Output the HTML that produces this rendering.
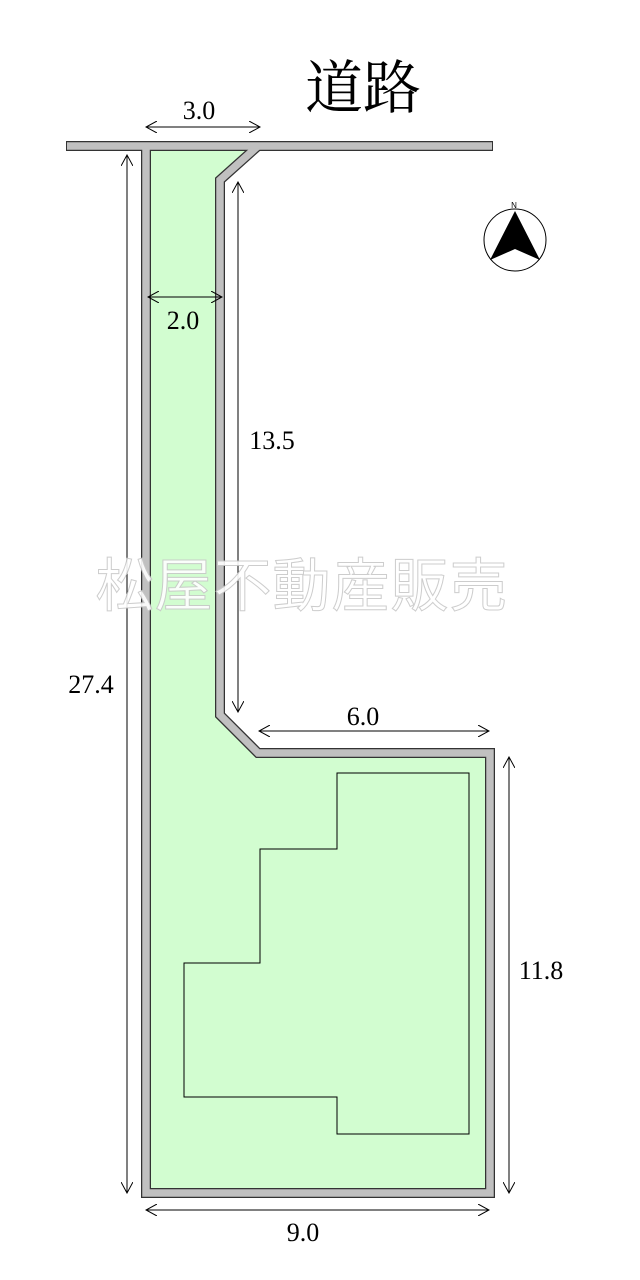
<!DOCTYPE html>
<html><head><meta charset="utf-8"><style>
html,body{margin:0;padding:0;background:#fff;width:640px;height:1280px;overflow:hidden}
</style></head><body>
<svg width="640" height="1280" viewBox="0 0 640 1280" xmlns="http://www.w3.org/2000/svg">
<defs>
<marker id="a" viewBox="0 0 12 12" refX="11" refY="6" markerWidth="12" markerHeight="12" markerUnits="userSpaceOnUse" orient="auto-start-reverse">
<path d="M0,0 L11,6 L0,12" fill="none" stroke="#000" stroke-width="1"/>
</marker>
</defs>
<polygon points="146,146 258,146 220,180 220,715 258,753 490,753 490,1193 146,1193" fill="#d2fdd0"/>
<g fill="none" stroke-linejoin="miter">
<path d="M66,146 L493,146" stroke="#333" stroke-width="10"/>
<path d="M258,146 L220,180 L220,715 L258,753 L490,753 L490,1193 L146,1193 L146,146" stroke="#333" stroke-width="10"/>
<path d="M67,146 L492,146" stroke="#c0c0c0" stroke-width="7.5"/>
<path d="M258,146 L220,180 L220,715 L258,753 L490,753 L490,1193 L146,1193 L146,146" stroke="#c0c0c0" stroke-width="7.5"/>
</g>
<polygon points="337,773 469,773 469,1134 337,1134 337,1097 184,1097 184,963 260,963 260,849 337,849" fill="none" stroke="#000" stroke-width="1"/>
<g stroke="#000" stroke-width="1" marker-start="url(#a)" marker-end="url(#a)">
<line x1="146" y1="127" x2="260" y2="127"/>
<line x1="148" y1="297" x2="222" y2="297"/>
<line x1="238" y1="182" x2="238" y2="712"/>
<line x1="127" y1="155" x2="127" y2="1193"/>
<line x1="259" y1="731" x2="489" y2="731"/>
<line x1="509" y1="757" x2="509" y2="1193"/>
<line x1="146" y1="1210" x2="489" y2="1210"/>
</g>
<g font-family="Liberation Serif, serif" font-size="26" fill="#000" text-anchor="middle">
<text x="199" y="119">3.0</text>
<text x="183" y="329">2.0</text>
<text x="272" y="449">13.5</text>
<text x="91" y="693">27.4</text>
<text x="363" y="725">6.0</text>
<text x="541" y="979">11.8</text>
<text x="303" y="1241">9.0</text>
</g>
<text x="363" y="108" font-family="Liberation Serif, 'Noto Serif CJK SC', serif" font-size="58" text-anchor="middle">道路</text>
<text x="302" y="606" font-family="'Noto Sans CJK JP', sans-serif" font-size="58" text-anchor="middle" fill="#fff" stroke="#c8c8c8" stroke-width="1" opacity="0.9" letter-spacing="1">松屋不動産販売</text>
<circle cx="515" cy="240" r="31" fill="#fff" stroke="#000" stroke-width="1"/>
<polygon points="515,211 540,260 515,249 490,260" fill="#000"/>
<text x="514" y="208" font-family="Liberation Sans, sans-serif" font-size="8" text-anchor="middle">N</text>
</svg>
</body></html>
